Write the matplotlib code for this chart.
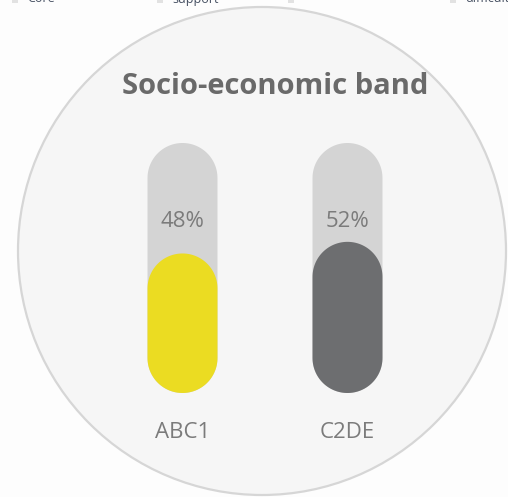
import numpy as np
import matplotlib.pyplot as plt
from matplotlib.patches import Circle, Polygon, Rectangle

# data
categories = ["ABC1", "C2DE"]
values = [48, 52]
labels = ["48%", "52%"]
fill_colors = ["#ebdc22", "#6d6e70"]
legend_items = ["Core", "support", "", "difficult"]
track_max = 86  # height of the grey track, in the same units as values

fig = plt.figure(figsize=(5.08, 4.97), dpi=100)
fig.patch.set_facecolor("#fdfdfd")

# background axes in pixel units
bg = fig.add_axes([0, 0, 1, 1])
bg.set_xlim(0, 508)
bg.set_ylim(497, 0)
bg.axis("off")
bg.add_patch(Circle((262, 251), 244, facecolor="#f6f6f6", edgecolor="#d6d6d6", lw=1.6))
bg.text(275, 87, "Socio-economic band", ha="center", va="center", fontsize=21,
        fontweight="bold", color="#6a6a6a", family="Open Sans")

# cut off legend strip at the very top
leg_x = [27, 172, 303, 465]
for x, name in zip(leg_x, legend_items):
    if name:
        bg.text(x, -1, name, ha="left", va="center", fontsize=9, color="#465062",
                family="Open Sans", clip_on=False)
    bg.add_patch(Rectangle((x - 15, -3), 6, 6, facecolor="#e2e2e2", edgecolor="none"))

# pill bars
ax = fig.add_axes([100 / 508, (497 - 393) / 497, 330 / 508, 250 / 497])
ax.set_xlim(-0.5, 1.5)
ax.set_ylim(0, track_max)
ax.axis("off")

fig.canvas.draw()
p0 = ax.transData.transform((0, 0))
p1 = ax.transData.transform((1, 1))
aspect = (p1[0] - p0[0]) / (p1[1] - p0[1])

bar_w = 0.424
rx = bar_w / 2
ry = rx * aspect  # cap radius in y units


def pill(x, top, color):
    t_bot = np.linspace(np.pi, 2 * np.pi, 60)
    t_top = np.linspace(0, np.pi, 60)
    xs = np.concatenate([x + rx * np.cos(t_bot), x + rx * np.cos(t_top)])
    ys = np.concatenate([ry + ry * np.sin(t_bot), top - ry + ry * np.sin(t_top)])
    ax.add_patch(Polygon(np.column_stack([xs, ys]), closed=True,
                         facecolor=color, edgecolor="none"))


for i, (cat, v, lab, c) in enumerate(zip(categories, values, labels, fill_colors)):
    pill(i, track_max, "#d4d4d4")
    pill(i, v, c)
    ax.text(i, 59, lab, ha="center", va="center", fontsize=16, color="#7b7b7b",
            family="Open Sans")
    ax.text(i, -13.5, cat, ha="center", va="center", fontsize=16, color="#7b7b7b",
            family="Open Sans", clip_on=False)

fig.savefig("out.png", dpi=100, facecolor=fig.get_facecolor())
